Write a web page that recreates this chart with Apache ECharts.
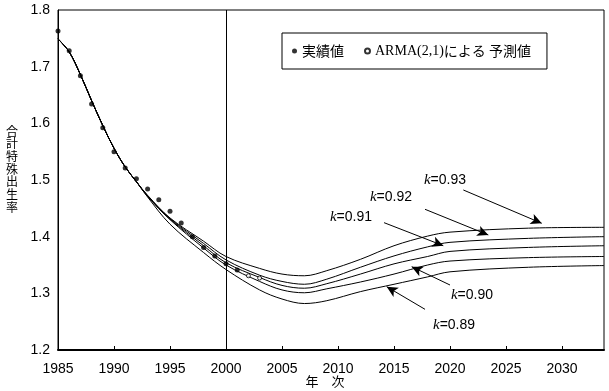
<!DOCTYPE html>
<html><head><meta charset="utf-8">
<script src="https://cdn.jsdelivr.net/npm/echarts@6/dist/echarts.min.js"></script>
<style>html,body{margin:0;padding:0;background:#fff;overflow:hidden}#c{width:609px;height:391px}</style>
</head><body><div id="c"></div>
<script>
// Observed TFR (filled dots)
const obsYears = [1985,1986,1987,1988,1989,1990,1991,1992,1993,1994,1995,1996,1997,1998,1999,2000,2001];
const obsValues = [1.763,1.728,1.684,1.634,1.592,1.550,1.521,1.502,1.484,1.465,1.445,1.424,1.400,1.381,1.366,1.352,1.341];
// ARMA(2,1) forecast points (open circles)
const armaYears = [2002,2003];
const armaValues = [1.331,1.327];
// Shared fitted segment
const fitYears = [1985,1986,1987,1988,1989,1990,1991];
const fitValues = [1.749,1.726,1.686,1.640,1.596,1.556,1.523];
// Scenario curves
const curveYears = [1992,1993,1995,1998,2000,2003,2005,2007,2009,2012,2015,2018,2020,2027,2033.75];
const k089 = [1.497,1.470,1.422,1.372,1.342,1.306,1.290,1.282,1.287,1.303,1.316,1.329,1.338,1.346,1.349];
const k090 = [1.497,1.471,1.430,1.380,1.350,1.321,1.306,1.301,1.308,1.320,1.334,1.350,1.357,1.363,1.365];
const k091 = [1.497,1.472,1.431,1.384,1.354,1.328,1.314,1.309,1.317,1.334,1.352,1.365,1.374,1.381,1.384];
const k092 = [1.497,1.472,1.432,1.388,1.359,1.332,1.321,1.316,1.325,1.346,1.366,1.382,1.390,1.397,1.400];
const k093 = [1.497,1.473,1.433,1.392,1.365,1.344,1.334,1.331,1.340,1.360,1.384,1.401,1.408,1.415,1.4165];
const curveNames = ['0.89','0.90','0.91','0.92','0.93'];
const curveValues = [k089,k090,k091,k092,k093];
// Annotation label anchors and arrows (data coords)
const labelPos = {'0.93':[2019.55,1.500],'0.92':[2014.73,1.470],'0.91':[2011.16,1.4347],'0.90':[2021.96,1.297],'0.89':[2020.36,1.244]};
const arrows = {
 '0.93':[[2021.19,1.4824],[2028.19,1.4236]],
 '0.92':[[2017.77,1.4483],[2023.42,1.4030]],
 '0.91':[[2014.11,1.4247],[2019.40,1.3841]],
 '0.90':[[2020.00,1.3147],[2016.58,1.3470]],
 '0.89':[[2017.77,1.2718],[2014.35,1.3117]]
};
const xTickMin = 1985, xMax = 2033.75, xInterval = 5;
const yMin = 1.2, yMax = 1.8, yInterval = 0.1;
const yAxisTitle = '合計特殊出生率';
const xAxisTitle = '年　次';

const tickFont = "'Liberation Sans',Arial,sans-serif";
const jpFont = "'Noto Sans CJK JP',sans-serif";

function zip(xs, ys){ return xs.map((x,i)=>[x, ys[i]]); }

const series = [];
curveValues.forEach((vals, idx) => {
  const name = curveNames[idx];
  series.push({
    name: 'k=' + name, type: 'line', smooth: 0.35, symbol: 'none', silent: true,
    lineStyle: {color: '#000', width: 1},
    data: zip(fitYears, fitValues).concat(zip(curveYears, vals)),
    markLine: {
      silent: true, symbol: ['none','arrow'], symbolSize: [8, 11],
      lineStyle: {color:'#000', width: 1, type: 'solid'},
      label: {show: false},
      data: [[{coord: arrows[name][0]}, {coord: arrows[name][1]}]]
    },
    markPoint: {
      silent: true, symbol: 'circle', symbolSize: 0,
      label: {show: true, position: 'inside', formatter: '{i|k}{n|=' + name + '}',
        rich: {i: {fontFamily: "'Liberation Serif',serif", fontStyle:'italic', fontSize: 15, color:'#000'},
               n: {fontFamily: tickFont, fontSize: 14, color:'#000'}}},
      data: [{coord: labelPos[name]}]
    }
  });
});
series.push({
  name: '実績値', type: 'scatter', symbol: 'circle', symbolSize: 5,
  itemStyle: {color: '#000'}, data: zip(obsYears, obsValues), z: 5,
  markLine: {silent: true, symbol: 'none', lineStyle: {color:'#000', width: 1, type:'solid'}, label:{show:false},
    data: [{xAxis: 2000}]}
});
series.push({
  name: 'ARMA(2,1)による 予測値', type: 'scatter', symbol: 'circle', symbolSize: 4,
  itemStyle: {color: '#fff', borderColor: '#000', borderWidth: 1}, data: zip(armaYears, armaValues), z: 5
});

const titleChars = yAxisTitle.split('');
const graphics = titleChars.map((ch, i) => ({
  type: 'text', x: 12, y: 131 + i * 12.7, silent: true,
  style: {text: ch, font: "12px 'Noto Sans CJK JP'", fill: '#000', align: 'center', verticalAlign: 'middle'}
}));

const chart = echarts.init(document.getElementById('c'), null, {renderer: 'canvas'});
chart.setOption({
  animation: false,
  backgroundColor: '#fff',
  grid: {left: 58, right: 5, top: 10, bottom: 41, show: true, borderColor: '#000', borderWidth: 1,
         containLabel: false, outerBoundsMode: 'none'},
  legend: {
    data: ['実績値', 'ARMA(2,1)による 予測値'],
    left: 282, top: 33, orient: 'horizontal',
    borderColor: '#000', borderWidth: 1, padding: [11, 16, 11, 10],
    itemWidth: 5, itemHeight: 5, itemGap: 20,
    formatter: function(n){ return n === '実績値' ? n : '{s|ARMA(2,1)}による 予測値'; },
    textStyle: {fontFamily: jpFont, fontSize: 14, color: '#000',
      rich: {s: {fontFamily: "'Liberation Serif',serif", fontSize: 14, color: '#000'}}}
  },
  graphic: graphics,
  xAxis: {
    type: 'value', min: xTickMin, max: xMax, interval: xInterval,
    name: xAxisTitle, nameLocation: 'middle', nameGap: 25, nameMoveOverlap: false,
    nameTextStyle: {fontFamily: jpFont, fontSize: 13, color: '#000', padding:[0,0,0,-12]},
    axisLine: {show: true, lineStyle: {color: '#000', width: 2}},
    axisTick: {show: true, inside: true, length: 4, lineStyle: {color:'#000'}},
    axisLabel: {fontFamily: tickFont, fontSize: 14, color: '#000', margin: 12, showMaxLabel: false,
      formatter: v => String(v)},
    splitLine: {show: false}
  },
  yAxis: {
    type: 'value', min: yMin, max: yMax, interval: yInterval,
    axisLine: {show: true, lineStyle: {color: '#000', width: 1}},
    axisTick: {show: false},
    axisLabel: {fontFamily: tickFont, fontSize: 14, color: '#000', margin: 8, formatter: v => v.toFixed(1)},
    splitLine: {show: false}
  },
  series: series
});
</script></body></html>
